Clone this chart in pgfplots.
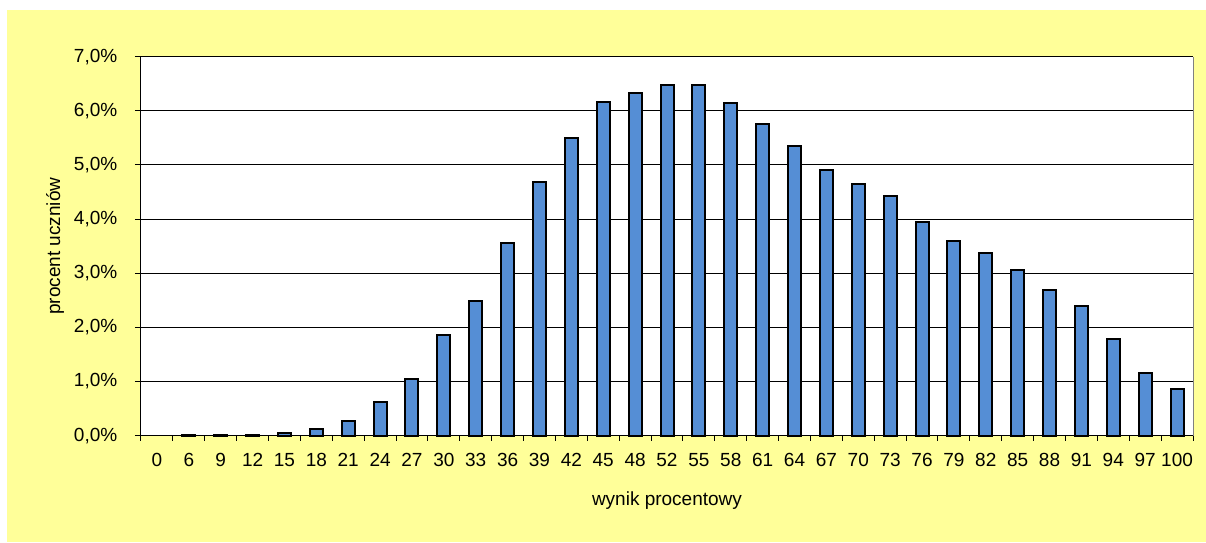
\documentclass[border=0pt]{standalone}
\usepackage{fontspec}
\setmainfont{Liberation Sans}
\usepackage{pgfplots}
\pgfplotsset{compat=1.18}
\definecolor{bgyellow}{RGB}{255,255,153}
\definecolor{barblue}{RGB}{85,142,213}
\begin{document}
\fontsize{9.5}{11.4}\selectfont
\begin{tikzpicture}
\fill[white] (-70.5pt,-53.15pt) rectangle (532.5pt,217.85pt);
\fill[bgyellow] (-67pt,-53.15pt) rectangle (532.5pt,212.85pt);
\begin{axis}[
  at={(0pt,0pt)}, anchor=south west,
  scale only axis,
  width=526pt, height=189.5pt,
  xmin=-0.5, xmax=32.5,
  ymin=0, ymax=7,
  axis background/.style={fill=white},
  axis x line*=bottom, axis y line*=left,
  axis line style={black, line width=0.5pt, -},
  ytick={0,1,...,7},
  yticklabels={{0,0\%},{1,0\%},{2,0\%},{3,0\%},{4,0\%},{5,0\%},{6,0\%},{7,0\%}},
  ymajorgrids,
  grid style={black, line width=0.5pt},
  xtick={0,...,32},
  xticklabels={0,6,9,12,15,18,21,24,27,30,33,36,39,42,45,48,52,55,58,61,64,67,70,73,76,79,82,85,88,91,94,97,100},
  minor xtick={-0.5,0.5,...,32.5},
  x tick style={draw=none},
  minor x tick style={draw=black, line width=0.5pt},
  y tick style={black, line width=0.5pt},
  tick align=outside,
  major tick length=3pt,
  minor tick length=2.5pt,
  tick label style={font=\fontsize{9.5}{11.4}\selectfont, text=black},
  xticklabel style={anchor=north, yshift=-2.5pt},
  yticklabel style={anchor=east, xshift=-5.5pt},
  xlabel={wynik procentowy},
  ylabel={procent uczniów},
  every axis x label/.style={at={(axis description cs:0.5,-0.1715)}, anchor=center, font=\fontsize{9.5}{11.4}\selectfont},
  every axis y label/.style={at={(axis description cs:-0.0817,0.5)}, anchor=center, rotate=90, font=\fontsize{9.5}{11.4}\selectfont},
  ybar, bar width=6.5pt,
  clip=false,
]
\addplot[fill=barblue, draw=black, line width=1pt] coordinates {
(1,0.01) (2,0.01) (3,0.015) (4,0.05) (5,0.12) (6,0.27) (7,0.62) (8,1.04)
(9,1.86) (10,2.49) (11,3.56) (12,4.69) (13,5.49) (14,6.17) (15,6.33) (16,6.48)
(17,6.48) (18,6.14) (19,5.75) (20,5.35) (21,4.91) (22,4.65) (23,4.42) (24,3.94)
(25,3.60) (26,3.38) (27,3.06) (28,2.70) (29,2.40) (30,1.78) (31,1.15) (32,0.86)
};
\draw[gray, line width=0.5pt] (rel axis cs:1,0) -- (rel axis cs:1,1);
\end{axis}
\end{tikzpicture}
\end{document}
